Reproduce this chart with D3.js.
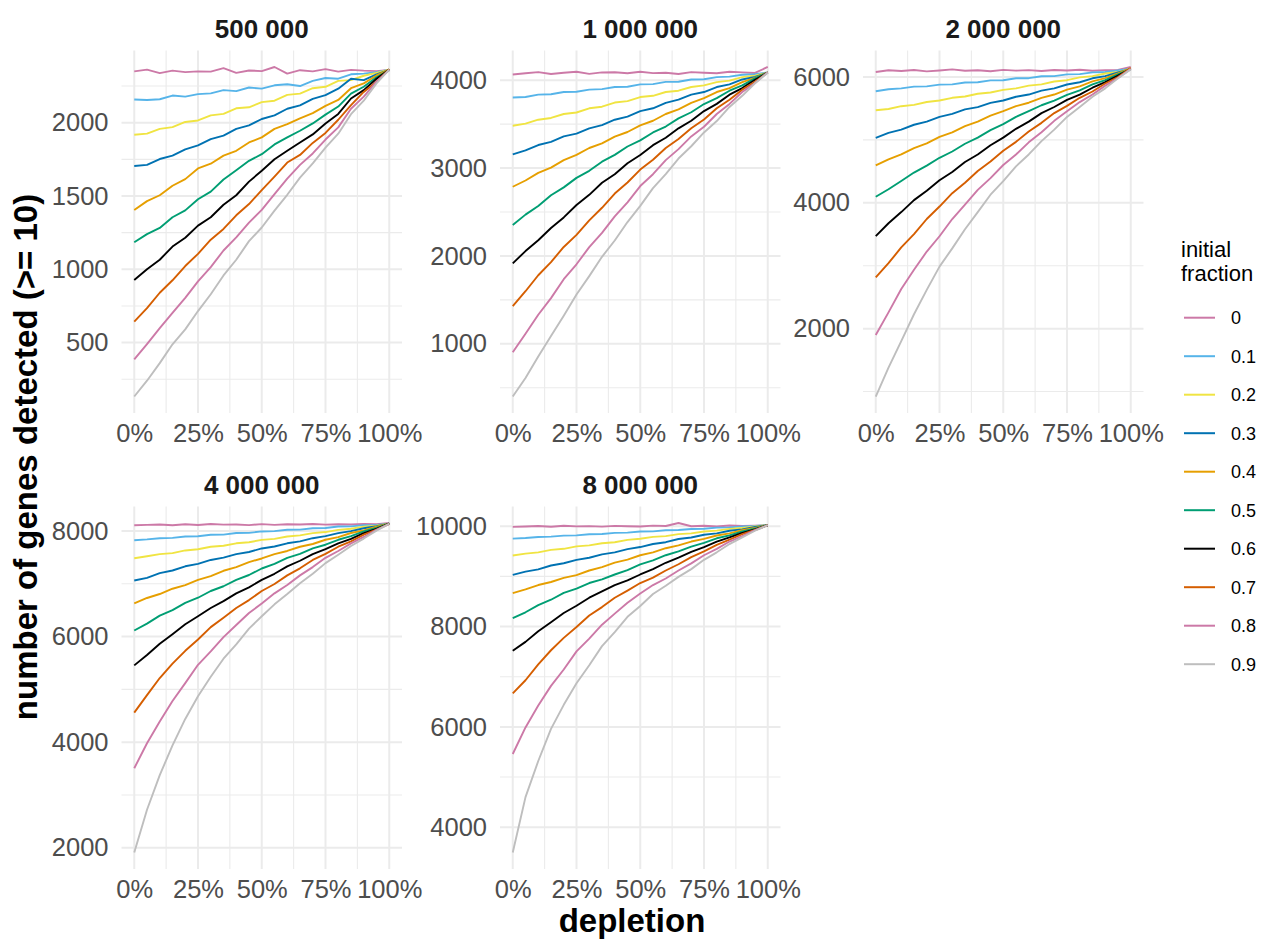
<!DOCTYPE html>
<meta charset="utf-8">
<style>
    body {
        margin: 0;
        background-color: #ffffff;
    }

    svg text {
        font-family: "Liberation Sans", Arial, Helvetica, sans-serif;
    }

    .grid-major {
        stroke: #EBEBEB;
        stroke-width: 2;
    }

    .grid-minor {
        stroke: #EBEBEB;
        stroke-width: 1.1;
    }

    .axis text {
        fill: #4D4D4D;
        font-size: 25.5px;
    }

    .strip {
        font-size: 26px;
        font-weight: bold;
        fill: #1A1A1A;
    }

    .axis-title {
        font-size: 33px;
        font-weight: bold;
        fill: #000000;
    }

    .series {
        fill: none;
        stroke-width: 1.9;
        stroke-linejoin: round;
    }
</style>

<body>
    <svg width="1261" height="939"></svg>
    <script src="https://cdn.jsdelivr.net/npm/d3@7"></script>
    <script>
        // depletion steps (x) shared by every series
        var depletion = [0, 0.05, 0.1, 0.15, 0.2, 0.25, 0.3, 0.35, 0.4, 0.45, 0.5,
            0.55, 0.6, 0.65, 0.7, 0.75, 0.8, 0.85, 0.9, 0.95, 1];

        var fractionLabels = ["0", "0.1", "0.2", "0.3", "0.4", "0.5", "0.6", "0.7", "0.8", "0.9"];
        var lineColours = ["#CC79A7", "#56B4E9", "#F0E442", "#0072B2", "#E69F00",
            "#009E73", "#000000", "#D55E00", "#CC79A7", "#BEBEBE"];

        var panelTitles = ["500 000", "1 000 000", "2 000 000", "4 000 000", "8 000 000"];
        var xTickValues = [0, 0.25, 0.5, 0.75, 1];
        var yTickValues = [
            [500, 1000, 1500, 2000],
            [1000, 2000, 3000, 4000],
            [2000, 4000, 6000],
            [2000, 4000, 6000, 8000],
            [4000, 6000, 8000, 10000]
        ];

        // number of genes detected, one row per initial fraction (0 ... 0.9)
        var genes500k = [
            [2350, 2362, 2338, 2355, 2345, 2350, 2348, 2372, 2340, 2356, 2352, 2380, 2335, 2358, 2350, 2365, 2348, 2360, 2355, 2352, 2360],
            [2158, 2155, 2160, 2185, 2178, 2195, 2200, 2222, 2215, 2240, 2232, 2255, 2262, 2250, 2285, 2305, 2300, 2330, 2335, 2345, 2362],
            [1918, 1925, 1958, 1970, 2005, 2015, 2050, 2060, 2098, 2105, 2140, 2150, 2190, 2198, 2235, 2245, 2285, 2290, 2320, 2340, 2362],
            [1705, 1712, 1752, 1775, 1818, 1845, 1888, 1912, 1958, 1982, 2025, 2050, 2095, 2118, 2162, 2188, 2232, 2300, 2290, 2330, 2360],
            [1404, 1465, 1505, 1570, 1615, 1688, 1720, 1775, 1808, 1865, 1900, 1958, 1990, 2030, 2065, 2115, 2155, 2235, 2268, 2322, 2362],
            [1184, 1240, 1282, 1355, 1402, 1478, 1530, 1612, 1675, 1740, 1785, 1852, 1900, 1945, 1995, 2055, 2110, 2198, 2245, 2310, 2358],
            [927, 1000, 1065, 1155, 1215, 1298, 1355, 1440, 1505, 1598, 1672, 1750, 1808, 1865, 1920, 1995, 2060, 2165, 2222, 2300, 2362],
            [643, 735, 840, 925, 1022, 1105, 1202, 1275, 1368, 1445, 1540, 1632, 1728, 1780, 1862, 1930, 2020, 2120, 2210, 2280, 2365],
            [386, 490, 598, 702, 805, 918, 1015, 1128, 1218, 1318, 1405, 1512, 1618, 1712, 1790, 1885, 1968, 2095, 2178, 2280, 2360],
            [132, 240, 360, 488, 590, 715, 830, 958, 1065, 1192, 1285, 1400, 1508, 1625, 1722, 1830, 1925, 2058, 2150, 2268, 2362]
        ];
        var genes1M = [
            [4064, 4078, 4092, 4070, 4085, 4095, 4072, 4088, 4090, 4078, 4095, 4080, 4085, 4070, 4092, 4085, 4078, 4095, 4088, 4082, 4150],
            [3803, 3808, 3835, 3840, 3865, 3868, 3892, 3898, 3922, 3925, 3952, 3955, 3980, 3982, 4008, 4010, 4035, 4040, 4062, 4068, 4088],
            [3481, 3505, 3550, 3570, 3615, 3632, 3680, 3698, 3745, 3762, 3808, 3822, 3865, 3880, 3922, 3940, 3978, 3995, 4035, 4052, 4085],
            [3155, 3200, 3262, 3298, 3360, 3392, 3452, 3488, 3550, 3585, 3648, 3680, 3742, 3778, 3835, 3865, 3922, 3952, 4008, 4038, 4085],
            [2787, 2858, 2945, 3005, 3090, 3150, 3228, 3280, 3358, 3410, 3485, 3538, 3615, 3668, 3742, 3795, 3865, 3910, 3978, 4025, 4088],
            [2351, 2470, 2568, 2690, 2780, 2888, 2968, 3072, 3150, 3245, 3315, 3405, 3472, 3565, 3635, 3728, 3795, 3880, 3940, 4020, 4085],
            [1915, 2055, 2178, 2318, 2438, 2580, 2695, 2832, 2930, 3055, 3148, 3260, 3345, 3452, 3538, 3648, 3730, 3835, 3910, 4005, 4085],
            [1430, 1598, 1780, 1930, 2102, 2240, 2405, 2548, 2710, 2835, 2982, 3095, 3228, 3330, 3452, 3552, 3680, 3778, 3892, 3982, 4088],
            [903, 1115, 1330, 1520, 1735, 1905, 2100, 2262, 2450, 2610, 2795, 2930, 3090, 3215, 3360, 3470, 3615, 3730, 3865, 3968, 4090],
            [400, 610, 855, 1090, 1320, 1560, 1770, 1990, 2175, 2385, 2570, 2772, 2930, 3108, 3248, 3405, 3535, 3695, 3822, 3965, 4085]
        ];
        var genes2M = [
            [6079, 6105, 6095, 6110, 6088, 6102, 6120, 6098, 6105, 6090, 6112, 6100, 6108, 6095, 6110, 6102, 6115, 6098, 6108, 6110, 6158],
            [5772, 5805, 5818, 5845, 5850, 5878, 5882, 5912, 5915, 5945, 5948, 5978, 5980, 6010, 6012, 6040, 6045, 6072, 6078, 6102, 6130],
            [5471, 5490, 5535, 5555, 5602, 5625, 5668, 5688, 5732, 5752, 5795, 5818, 5862, 5882, 5928, 5948, 5992, 6012, 6055, 6078, 6128],
            [5032, 5110, 5162, 5240, 5290, 5365, 5412, 5485, 5520, 5588, 5625, 5685, 5720, 5782, 5818, 5880, 5915, 5978, 6012, 6070, 6125],
            [4593, 4690, 4770, 4870, 4945, 5048, 5120, 5218, 5290, 5385, 5455, 5535, 5590, 5668, 5720, 5798, 5850, 5928, 5982, 6055, 6135],
            [4095, 4215, 4345, 4480, 4590, 4715, 4815, 4938, 5035, 5155, 5250, 5365, 5455, 5550, 5625, 5715, 5785, 5880, 5950, 6040, 6125],
            [3471, 3675, 3852, 4042, 4190, 4358, 4490, 4648, 4768, 4915, 5035, 5175, 5290, 5425, 5522, 5635, 5720, 5828, 5918, 6022, 6130],
            [2815, 3040, 3290, 3502, 3742, 3940, 4152, 4318, 4505, 4655, 4828, 4968, 5132, 5270, 5425, 5540, 5668, 5768, 5895, 5998, 6140],
            [1900, 2258, 2630, 2935, 3225, 3468, 3742, 3970, 4205, 4392, 4600, 4768, 4960, 5120, 5302, 5455, 5600, 5720, 5862, 5982, 6128],
            [921, 1380, 1800, 2228, 2615, 2985, 3275, 3580, 3852, 4128, 4345, 4578, 4768, 4980, 5162, 5365, 5522, 5685, 5818, 5978, 6120]
        ];
        var genes4M = [
            [8107, 8115, 8120, 8108, 8125, 8112, 8130, 8118, 8122, 8110, 8128, 8115, 8125, 8120, 8130, 8118, 8125, 8122, 8130, 8128, 8150],
            [7824, 7840, 7862, 7868, 7895, 7900, 7928, 7930, 7960, 7962, 7990, 7995, 8022, 8025, 8050, 8055, 8082, 8085, 8110, 8115, 8138],
            [7483, 7520, 7560, 7580, 7630, 7652, 7700, 7718, 7765, 7785, 7830, 7850, 7895, 7915, 7958, 7978, 8020, 8040, 8080, 8100, 8138],
            [7061, 7110, 7200, 7250, 7330, 7375, 7450, 7495, 7560, 7600, 7668, 7705, 7765, 7802, 7862, 7900, 7958, 7995, 8050, 8088, 8135],
            [6626, 6730, 6805, 6905, 6975, 7072, 7145, 7245, 7315, 7410, 7478, 7560, 7620, 7700, 7752, 7832, 7882, 7960, 8010, 8080, 8135],
            [6115, 6245, 6395, 6500, 6638, 6735, 6862, 6952, 7072, 7165, 7288, 7375, 7490, 7565, 7668, 7738, 7832, 7900, 7990, 8055, 8135],
            [5454, 5650, 5862, 6045, 6232, 6385, 6540, 6670, 6818, 6932, 7072, 7188, 7328, 7435, 7560, 7655, 7765, 7850, 7958, 8040, 8138],
            [4560, 4890, 5215, 5488, 5730, 5945, 6178, 6355, 6540, 6690, 6862, 6995, 7158, 7292, 7450, 7565, 7700, 7802, 7928, 8025, 8135],
            [3506, 3980, 4390, 4780, 5118, 5465, 5718, 5990, 6218, 6445, 6625, 6818, 6975, 7158, 7315, 7490, 7620, 7765, 7885, 8020, 8135],
            [1911, 2720, 3375, 3940, 4440, 4870, 5240, 5580, 5850, 6150, 6385, 6610, 6805, 7010, 7190, 7390, 7550, 7715, 7855, 8005, 8135]
        ];
        var genes8M = [
            [9987, 9995, 10005, 9990, 10010, 9998, 10002, 9992, 10008, 10000, 9995, 10012, 10005, 10065, 10000, 10010, 9995, 10015, 10005, 10010, 10020],
            [9754, 9765, 9785, 9792, 9812, 9818, 9840, 9845, 9868, 9872, 9895, 9898, 9920, 9925, 9946, 9950, 9972, 9978, 9998, 10004, 10022],
            [9416, 9455, 9480, 9528, 9550, 9598, 9618, 9662, 9682, 9728, 9750, 9788, 9802, 9842, 9858, 9896, 9912, 9948, 9965, 9998, 10020],
            [9031, 9095, 9140, 9218, 9262, 9330, 9372, 9440, 9480, 9545, 9585, 9645, 9682, 9745, 9776, 9830, 9858, 9910, 9938, 9985, 10020],
            [8666, 8740, 8828, 8888, 8970, 9025, 9118, 9185, 9275, 9335, 9422, 9480, 9562, 9618, 9695, 9748, 9815, 9858, 9922, 9965, 10020],
            [8168, 8285, 8428, 8535, 8672, 8758, 8868, 8940, 9038, 9125, 9238, 9318, 9422, 9498, 9595, 9668, 9760, 9818, 9895, 9950, 10020],
            [7518, 7695, 7908, 8088, 8270, 8415, 8575, 8700, 8828, 8922, 9038, 9145, 9272, 9375, 9490, 9585, 9695, 9778, 9868, 9938, 10020],
            [6668, 6930, 7245, 7528, 7775, 7990, 8220, 8388, 8575, 8718, 8868, 8975, 9118, 9242, 9385, 9498, 9630, 9732, 9842, 9925, 10020],
            [5460, 5990, 6425, 6818, 7145, 7505, 7760, 8038, 8258, 8475, 8660, 8828, 8958, 9118, 9260, 9422, 9550, 9695, 9802, 9922, 10020],
            [3496, 4600, 5320, 5960, 6440, 6870, 7230, 7610, 7890, 8195, 8410, 8650, 8815, 8990, 9145, 9330, 9480, 9645, 9778, 9910, 10020]
        ];

        var panelData = [genes500k, genes1M, genes2M, genes4M, genes8M];

        var svg = d3.select("svg");

        // facet layout (panel top-left corners), ggplot-like 3 + 2 grid
        var panelW = 280.5,
            panelH = 362.5;
        var panelLeft = [121.5, 500, 863, 121.5, 500];
        var panelTop = [50.5, 50.5, 50.5, 506.5, 506.5];

        function midpoints(ticks) {
            var step = ticks[1] - ticks[0];
            var out = [];
            for (var i = -1; i < ticks.length; i++) {
                out.push(ticks[0] + (i + 0.5) * step);
            }
            return out;
        }

        panelData.forEach(function(series, p) {
            var g = svg.append("g")
                .attr("transform", "translate(" + panelLeft[p] + "," + panelTop[p] + ")");

            var x = d3.scaleLinear().domain([-0.05, 1.05]).range([0, panelW]);

            var ext = d3.extent(d3.merge(series));
            var pad = (ext[1] - ext[0]) * 0.05;
            var y = d3.scaleLinear().domain([ext[0] - pad, ext[1] + pad]).range([panelH, 0]);

            var yMinor = midpoints(yTickValues[p]).filter(function(v) {
                return v > y.domain()[0] && v < y.domain()[1];
            });
            var xMinor = midpoints(xTickValues).filter(function(v) {
                return v > 0 && v < 1;
            });

            // grid
            g.selectAll(".ym").data(yMinor).enter().append("line")
                .attr("class", "grid-minor")
                .attr("x1", 0).attr("x2", panelW)
                .attr("y1", y).attr("y2", y);
            g.selectAll(".xm").data(xMinor).enter().append("line")
                .attr("class", "grid-minor")
                .attr("y1", 0).attr("y2", panelH)
                .attr("x1", x).attr("x2", x);
            g.selectAll(".yM").data(yTickValues[p]).enter().append("line")
                .attr("class", "grid-major")
                .attr("x1", 0).attr("x2", panelW)
                .attr("y1", y).attr("y2", y);
            g.selectAll(".xM").data(xTickValues).enter().append("line")
                .attr("class", "grid-major")
                .attr("y1", 0).attr("y2", panelH)
                .attr("x1", x).attr("x2", x);

            // axes (no ticks, no domain line, like theme_minimal)
            var yAxis = g.append("g")
                .attr("class", "axis")
                .call(d3.axisLeft(y).tickValues(yTickValues[p]).tickSize(0).tickPadding(13).tickFormat(d3.format("d")));
            yAxis.select(".domain").remove();
            yAxis.selectAll("text").attr("font-family", null).attr("font-size", null);

            var xAxis = g.append("g")
                .attr("class", "axis")
                .attr("transform", "translate(0," + panelH + ")")
                .call(d3.axisBottom(x).tickValues(xTickValues).tickSize(0).tickPadding(11).tickFormat(d3.format(".0%")));
            xAxis.select(".domain").remove();
            xAxis.selectAll("text").attr("font-family", null).attr("font-size", null);

            // strip title
            g.append("text")
                .attr("class", "strip")
                .attr("x", panelW / 2)
                .attr("y", -12.5)
                .attr("text-anchor", "middle")
                .text(panelTitles[p]);

            var line = d3.line()
                .x(function(d, i) { return x(depletion[i]); })
                .y(function(d) { return y(d); });

            g.selectAll(".series")
                .data(series)
                .enter().append("path")
                .attr("class", "series")
                .attr("stroke", function(d, i) { return lineColours[i]; })
                .attr("d", line);
        });

        // axis titles
        svg.append("text")
            .attr("class", "axis-title")
            .attr("text-anchor", "middle")
            .attr("transform", "translate(37,457) rotate(-90)")
            .text("number of genes detected (>= 10)");

        svg.append("text")
            .attr("class", "axis-title")
            .attr("text-anchor", "middle")
            .attr("x", 632)
            .attr("y", 932)
            .text("depletion");

        // legend
        var legend = svg.append("g").attr("transform", "translate(1181,0)");
        legend.append("text")
            .attr("y", 257)
            .style("font-size", "22px")
            .text("initial");
        legend.append("text")
            .attr("y", 281)
            .style("font-size", "22px")
            .text("fraction");

        var key = legend.selectAll(".key")
            .data(fractionLabels)
            .enter().append("g")
            .attr("transform", function(d, i) {
                return "translate(0," + (317.7 + i * 38.5) + ")";
            });
        key.append("line")
            .attr("x1", 3).attr("x2", 34)
            .attr("stroke", function(d, i) { return lineColours[i]; })
            .attr("stroke-width", 2);
        key.append("text")
            .attr("x", 50)
            .attr("dy", "0.36em")
            .style("font-size", "18px")
            .text(function(d) { return d; });
    </script>
</body>
